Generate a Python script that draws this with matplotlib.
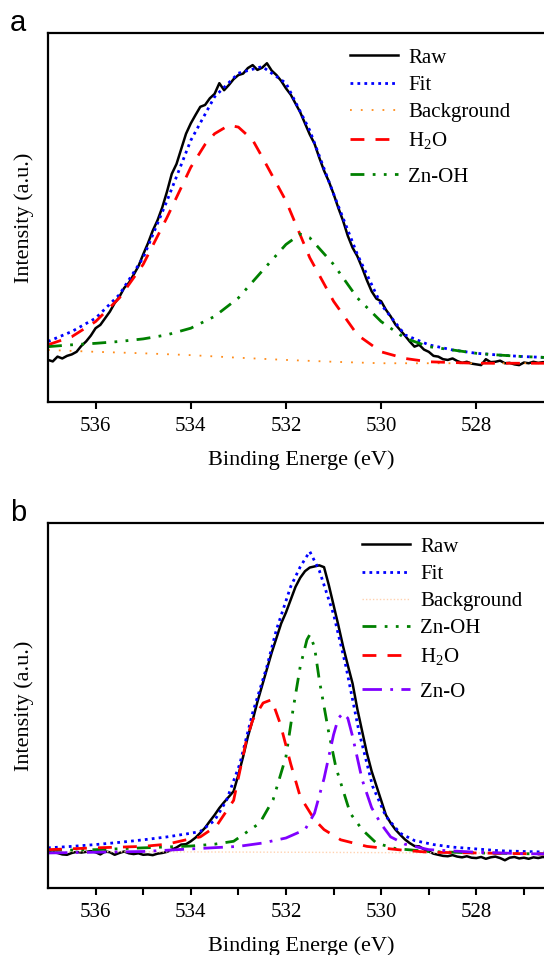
import numpy as np
import matplotlib
matplotlib.use("Agg")
import matplotlib.pyplot as plt

plt.rcParams['font.family'] = ['Liberation Serif', 'DejaVu Serif']
plt.rcParams['mathtext.fontset'] = 'custom'
plt.rcParams['mathtext.rm'] = 'Liberation Serif'
plt.rcParams['mathtext.it'] = 'Liberation Serif:italic'

# ---------------- panel a data ----------------
raw_a_e = np.round(np.arange(537.0, 526.35, -0.1), 1)
raw_a = [11.4, 11.0, 12.3, 11.8, 12.5, 12.9, 13.6, 15.2, 16.4, 18.0,
         20.0, 20.9, 22.7, 24.5, 26.8, 28.5, 30.9, 32.3, 34.5, 36.8,
         40.0, 43.0, 46.4, 49.2, 52.7, 57.0, 61.8, 64.5, 68.6, 72.7,
         75.5, 77.8, 80.0, 80.5, 82.3, 83.5, 86.4, 84.5, 85.9, 87.5,
         88.6, 89.0, 90.5, 91.3, 90.0, 90.6, 91.8, 89.8, 88.6, 87.0,
         85.0, 83.3, 80.9, 78.5, 75.5, 72.5, 70.0, 66.2, 62.7, 59.8,
         56.4, 52.6, 49.1, 45.0, 41.8, 39.5, 36.4, 33.0, 30.0, 28.0,
         27.3, 25.0, 23.2, 21.0, 19.5, 18.0, 16.4, 15.0, 15.5, 14.2,
         13.6, 12.5, 12.3, 11.6, 11.4, 11.8, 11.1, 10.6, 10.9, 10.4,
         10.2, 10.0, 11.6, 10.8, 10.9, 11.2, 10.5, 10.6, 10.2, 10.0,
         10.7, 10.5, 10.9, 10.6, 10.8, 10.7, 10.9]

fit_a_e = [537.0, 536.5, 536.0, 535.5, 535.0, 534.5, 534.0, 533.5, 533.0, 532.5,
           532.0, 531.5, 531.0, 530.5, 530.0, 529.5, 529.0, 528.5, 528.0, 527.5, 527.0, 526.4]
fit_a = [16.4, 19.1, 22.7, 29.1, 39.1, 54.5, 70.9, 82.7, 89.1, 90.9,
         86.4, 73.6, 56.4, 40.0, 26.4, 18.2, 15.5, 14.1, 13.2, 12.7, 12.3, 12.0]

bg_a_e = [537.0, 536.0, 535.0, 534.0, 533.0, 532.0, 531.0, 530.0, 529.0, 528.0, 527.0, 526.4]
bg_a = [14.1, 13.6, 13.2, 12.7, 12.0, 11.4, 10.9, 10.5, 10.5, 10.5, 10.5, 10.5]

h2o_a_e = [537.0, 536.5, 536.0, 535.5, 535.0, 534.5, 534.0, 533.7, 533.5, 533.2,
           533.0, 532.7, 532.5, 532.0, 531.5, 531.0, 530.5, 530.0, 529.5, 529.0,
           528.0, 527.0, 526.4]
h2o_a = [15.5, 17.7, 21.8, 28.2, 37.3, 50.0, 63.6, 69.8, 72.7, 75.0,
         74.5, 71.0, 66.4, 54.5, 39.1, 27.3, 18.2, 13.6, 11.8, 10.9,
         10.5, 10.5, 10.5]

znoh_a_e = [537.0, 536.5, 536.0, 535.5, 535.0, 534.5, 534.0, 533.5, 533.0, 532.5,
            532.0, 531.7, 531.5, 531.0, 530.5, 530.0, 529.5, 529.0, 528.5, 528.0,
            527.5, 527.0, 526.4]
znoh_a = [15.0, 15.5, 15.9, 16.4, 17.1, 18.2, 20.0, 23.2, 28.2, 35.5,
          42.7, 45.5, 44.5, 37.3, 28.2, 21.8, 17.3, 15.0, 14.1, 13.2,
          12.7, 12.3, 12.0]

# ---------------- panel b data ----------------
raw_b_e = np.round(np.arange(537.0, 526.35, -0.1), 1)
raw_b = [10.0, 9.8, 9.6, 9.2, 9.1, 9.6, 9.9, 9.7, 9.9, 10.1,
         9.8, 9.2, 10.0, 9.8, 9.1, 9.6, 10.0, 9.5, 9.3, 9.5,
         9.1, 9.2, 9.0, 9.4, 9.6, 9.9, 10.5, 11.1, 11.9, 12.0,
         12.8, 13.8, 15.1, 16.5, 18.3, 20.0, 21.9, 23.5, 25.0, 26.5,
         31.0, 36.0, 41.5, 46.0, 51.0, 55.5, 60.0, 64.5, 68.5, 72.5,
         75.5, 79.0, 82.5, 85.0, 86.8, 87.8, 88.1, 88.4, 87.9, 83.0,
         77.5, 72.0, 66.2, 61.0, 56.0, 49.0, 43.0, 37.0, 32.0, 28.0,
         24.0, 20.0, 17.8, 16.0, 14.6, 13.3, 12.3, 11.5, 11.4, 10.6,
         10.0, 9.4, 9.1, 8.8, 8.7, 9.0, 8.6, 8.4, 8.7, 8.3,
         8.2, 8.5, 8.0, 8.4, 8.6, 8.2, 7.6, 8.3, 8.5, 8.1,
         8.3, 8.0, 8.4, 8.2, 8.5, 8.3, 8.4]

fit_b_e = [537.0, 536.5, 536.0, 535.5, 535.0, 534.5, 534.0, 533.8, 533.5, 533.25,
           532.97, 532.7, 532.4, 532.2, 531.9, 531.7, 531.5, 531.3, 531.0, 530.74,
           530.46, 530.18, 529.9, 529.6, 529.3, 528.9, 528.5, 528.0, 527.5, 527.0, 526.4]
fit_b = [11.0, 11.4, 11.9, 12.5, 13.2, 14.0, 15.0, 15.5, 18.5, 24.0,
         34.0, 48.0, 60.7, 70.8, 82.6, 88.0, 92.2, 87.0, 75.0, 60.7,
         42.5, 27.9, 19.6, 15.0, 13.0, 11.9, 11.2, 10.7, 10.2, 10.0, 9.8]

bg_b_e = [537.0, 532.0, 526.4]
bg_b = [10.0, 9.8, 9.5]

znoh_b_e = [537.0, 536.0, 535.0, 534.0, 533.5, 533.1, 532.55, 532.27, 532.0, 531.85,
            531.7, 531.56, 531.5, 531.4, 531.3, 531.1, 530.95, 530.65, 530.4, 530.1,
            529.7, 529.0, 528.0, 527.0, 526.4]
znoh_b = [10.3, 10.5, 11.0, 11.5, 12.0, 12.8, 17.8, 24.2, 36.0, 49.0,
          60.7, 68.0, 69.4, 66.0, 57.0, 42.5, 33.0, 20.5, 16.0, 12.3,
          10.8, 10.0, 9.6, 9.4, 9.3]

h2o_b_e = [537.0, 536.0, 535.0, 534.5, 534.1, 533.8, 533.46, 533.1, 532.83, 532.7,
           532.48, 532.3, 532.12, 531.9, 531.7, 531.4, 531.2, 530.85, 530.3, 529.5,
           529.0, 528.0, 527.0, 526.4]
h2o_b = [10.5, 11.0, 11.4, 12.0, 13.2, 14.0, 17.0, 24.0, 40.6, 46.0,
         50.7, 51.6, 45.0, 34.0, 25.0, 18.7, 16.0, 13.2, 11.4, 10.3,
         9.8, 9.6, 9.4, 9.3]

zno_b_e = [537.0, 536.0, 535.0, 534.0, 533.0, 532.5, 532.0, 531.6, 531.4, 531.2,
           531.0, 530.9, 530.8, 530.7, 530.6, 530.4, 530.2, 530.0, 529.8, 529.5,
           529.0, 528.0, 527.0, 526.4]
zno_b = [9.6, 9.8, 10.0, 10.7, 11.4, 12.3, 13.7, 16.0, 20.5, 30.0,
         42.0, 46.5, 47.9, 46.5, 41.5, 29.7, 22.0, 17.5, 14.0, 12.0,
         10.5, 9.8, 9.4, 9.3]

# ---------------- figure ----------------
fig = plt.figure(figsize=(5.44, 9.55), dpi=100)
ax_a = fig.add_axes([48/544, 1-402/955, 0.93, 369/955])
ax_b = fig.add_axes([48/544, 1-888/955, 0.93, 365/955])

col_raw = 'black'
col_fit = '#0000ff'
col_h2o = '#ff0000'
col_znoh = '#008000'
col_zno = '#8000ff'

# panel a
la = []
la += ax_a.plot(raw_a_e, raw_a, color=col_raw, lw=1.8, label='Raw')
la += ax_a.plot(fit_a_e, fit_a, color=col_fit, lw=2.0, ls=(0, (1, 1.5)), label='Fit')
la += ax_a.plot(bg_a_e, bg_a, color='#ff8c1a', lw=1.3, ls=(0, (1, 5)), label='Background')
la += ax_a.plot(h2o_a_e, h2o_a, color=col_h2o, lw=2.0, ls=(0, (5, 4)), label=r'H$_2$O')
la += ax_a.plot(znoh_a_e, znoh_a, color=col_znoh, lw=2.0, ls=(0, (5, 3, 1, 3, 1, 3)), label='Zn-OH')

# panel b
lb = []
lb += ax_b.plot(raw_b_e, raw_b, color=col_raw, lw=1.8, label='Raw')
lb += ax_b.plot(fit_b_e, fit_b, color=col_fit, lw=2.0, ls=(0, (1, 1.5)), label='Fit')
lb += ax_b.plot(bg_b_e, bg_b, color='#ffd2b0', lw=1.0, ls=(0, (1, 1.5)), label='Background')
lb += ax_b.plot(znoh_b_e, znoh_b, color=col_znoh, lw=2.0, ls=(0, (5, 3, 1, 3, 1, 3)), label='Zn-OH')
lb += ax_b.plot(h2o_b_e, h2o_b, color=col_h2o, lw=2.0, ls=(0, (5, 4)), label=r'H$_2$O')
lb += ax_b.plot(zno_b_e, zno_b, color=col_zno, lw=2.0, ls=(0, (7, 3, 1, 3)), label='Zn-O')

for ax in (ax_a, ax_b):
    ax.set_xlim(537.0, 526.37)
    ax.set_ylim(0, 100)
    ax.set_xticks([536, 534, 532, 530, 528])
    ax.set_yticks([])
    ax.tick_params(axis='x', which='both', direction='out', length=5, width=1.5,
                   labelsize=15, pad=6)
    for sp in ax.spines.values():
        sp.set_linewidth(1.6)
    ax.set_xlabel('Binding Energe (eV)', fontsize=16, labelpad=10)
    ax.set_ylabel('Intensity (a.u.)', fontsize=16, labelpad=10)

# only panel b shows minor ticks
ax_b.set_xticks([535, 533, 531, 529, 527], minor=True)

leg_kw = dict(bbox_transform=fig.transFigure, loc='upper left', frameon=False, fontsize=15,
              handlelength=2.3, handletextpad=0.5, borderpad=0, borderaxespad=0,
              labelspacing=0.37)

# the last entry of each legend sits a little lower, so it gets its own legend
leg1 = ax_a.legend(handles=la[:4], bbox_to_anchor=(350/544, 1-48/955), **leg_kw)
ax_a.add_artist(leg1)
ax_a.legend(handles=la[4:], bbox_to_anchor=(350/544, 1-167/955), **leg_kw)

leg2 = ax_b.legend(handles=lb[:5], bbox_to_anchor=(362/544, 1-537/955), **leg_kw)
ax_b.add_artist(leg2)
ax_b.legend(handles=lb[5:], bbox_to_anchor=(362/544, 1-682/955), **leg_kw)

fig.text(10/544, 1-31/955, 'a', fontsize=21, family='Liberation Sans')
fig.text(10/544, 1-521/955, 'b', fontsize=21, family='Liberation Sans')

fig.savefig('out.png', dpi=100)
